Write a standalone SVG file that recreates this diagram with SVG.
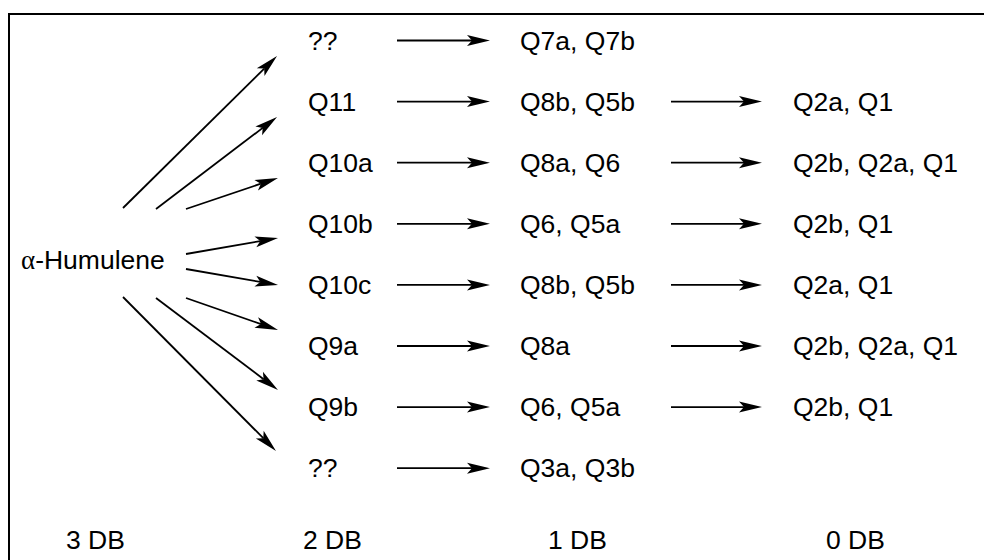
<svg xmlns="http://www.w3.org/2000/svg" width="984" height="560" viewBox="0 0 984 560">
  <style>
    text { font-family: "Liberation Sans", Arial, sans-serif; font-size: 26.5px; fill: #000; }
    .greek { font-family: "Liberation Serif", "Times New Roman", serif; font-size: 27px; }
    .conn { stroke: #000; stroke-width: 1.8; fill: none; marker-end: url(#head); }
    .frame { stroke: #000; stroke-width: 2; fill: none; }
  </style>
  <defs>
    <!-- arrowhead: notch at origin, tip 18px ahead -->
    <marker id="head" markerUnits="userSpaceOnUse" markerWidth="30" markerHeight="16" viewBox="-6 -8 30 16" refX="0" refY="0" orient="auto" overflow="visible">
      <path d="M18,0 L-5,-5.5 L0,0 L-5,5.5 Z" fill="#000"/>
    </marker>
  </defs>

  <rect width="984" height="560" fill="#fff"/>
  <path class="frame" d="M9,560 V14 H984"/>

  <g id="connectors">
    <!-- alpha-humulene to 2 DB products -->
    <line class="conn" x1="123" y1="208" x2="264.2" y2="68.6"/>
    <line class="conn" x1="156" y1="209" x2="262.7" y2="127.9"/>
    <line class="conn" x1="186" y1="209" x2="260.9" y2="183.7"/>
    <line class="conn" x1="186" y1="254" x2="260.3" y2="241.1"/>
    <line class="conn" x1="186" y1="269" x2="260.3" y2="281.9"/>
    <line class="conn" x1="186" y1="298" x2="261.0" y2="324.1"/>
    <line class="conn" x1="156" y1="298" x2="263.6" y2="379.2"/>
    <line class="conn" x1="123" y1="297" x2="263.3" y2="438.2"/>
    <!-- 2 DB to 1 DB -->
    <line class="conn" x1="397" y1="40.5" x2="472" y2="40.5"/>
    <line class="conn" x1="397" y1="101.6" x2="472" y2="101.6"/>
    <line class="conn" x1="397" y1="162.7" x2="472" y2="162.7"/>
    <line class="conn" x1="397" y1="223.8" x2="472" y2="223.8"/>
    <line class="conn" x1="397" y1="284.9" x2="472" y2="284.9"/>
    <line class="conn" x1="397" y1="346" x2="472" y2="346"/>
    <line class="conn" x1="397" y1="407.1" x2="472" y2="407.1"/>
    <line class="conn" x1="397" y1="468.2" x2="472" y2="468.2"/>
    <!-- 1 DB to 0 DB -->
    <line class="conn" x1="671" y1="101.6" x2="744" y2="101.6"/>
    <line class="conn" x1="671" y1="162.7" x2="744" y2="162.7"/>
    <line class="conn" x1="671" y1="223.8" x2="744" y2="223.8"/>
    <line class="conn" x1="671" y1="284.9" x2="744" y2="284.9"/>
    <line class="conn" x1="671" y1="346" x2="744" y2="346"/>
    <line class="conn" x1="671" y1="407.1" x2="744" y2="407.1"/>
  </g>

  <g id="humulene"><text x="21" y="269"><tspan class="greek">α</tspan>-Humulene</text></g>

  <!-- 2 DB column -->
  <g id="db2-unknown-top"><text x="308" y="49.5">??</text></g>
  <g id="Q11"><text x="308" y="110.6">Q11</text></g>
  <g id="Q10a"><text x="308" y="171.7">Q10a</text></g>
  <g id="Q10b"><text x="308" y="232.8">Q10b</text></g>
  <g id="Q10c"><text x="308" y="293.9">Q10c</text></g>
  <g id="Q9a"><text x="308" y="355">Q9a</text></g>
  <g id="Q9b"><text x="308" y="416.1">Q9b</text></g>
  <g id="db2-unknown-bottom"><text x="308" y="477.2">??</text></g>

  <!-- 1 DB column -->
  <g id="Q7"><text x="520" y="49.5">Q7a, Q7b</text></g>
  <g id="Q8b-Q5b-1"><text x="520" y="110.6">Q8b, Q5b</text></g>
  <g id="Q8a-Q6"><text x="520" y="171.7">Q8a, Q6</text></g>
  <g id="Q6-Q5a-1"><text x="520" y="232.8">Q6, Q5a</text></g>
  <g id="Q8b-Q5b-2"><text x="520" y="293.9">Q8b, Q5b</text></g>
  <g id="Q8a"><text x="520" y="355">Q8a</text></g>
  <g id="Q6-Q5a-2"><text x="520" y="416.1">Q6, Q5a</text></g>
  <g id="Q3"><text x="520" y="477.2">Q3a, Q3b</text></g>

  <!-- 0 DB column -->
  <g id="Q2a-Q1-1"><text x="793" y="110.6">Q2a, Q1</text></g>
  <g id="Q2b-Q2a-Q1-1"><text x="793" y="171.7">Q2b, Q2a, Q1</text></g>
  <g id="Q2b-Q1-1"><text x="793" y="232.8">Q2b, Q1</text></g>
  <g id="Q2a-Q1-2"><text x="793" y="293.9">Q2a, Q1</text></g>
  <g id="Q2b-Q2a-Q1-2"><text x="793" y="355">Q2b, Q2a, Q1</text></g>
  <g id="Q2b-Q1-2"><text x="793" y="416.1">Q2b, Q1</text></g>

  <!-- double-bond count labels -->
  <g id="labels">
    <text x="66" y="549">3 DB</text>
    <text x="303" y="549">2 DB</text>
    <text x="548" y="549">1 DB</text>
    <text x="826" y="549">0 DB</text>
  </g>
</svg>
